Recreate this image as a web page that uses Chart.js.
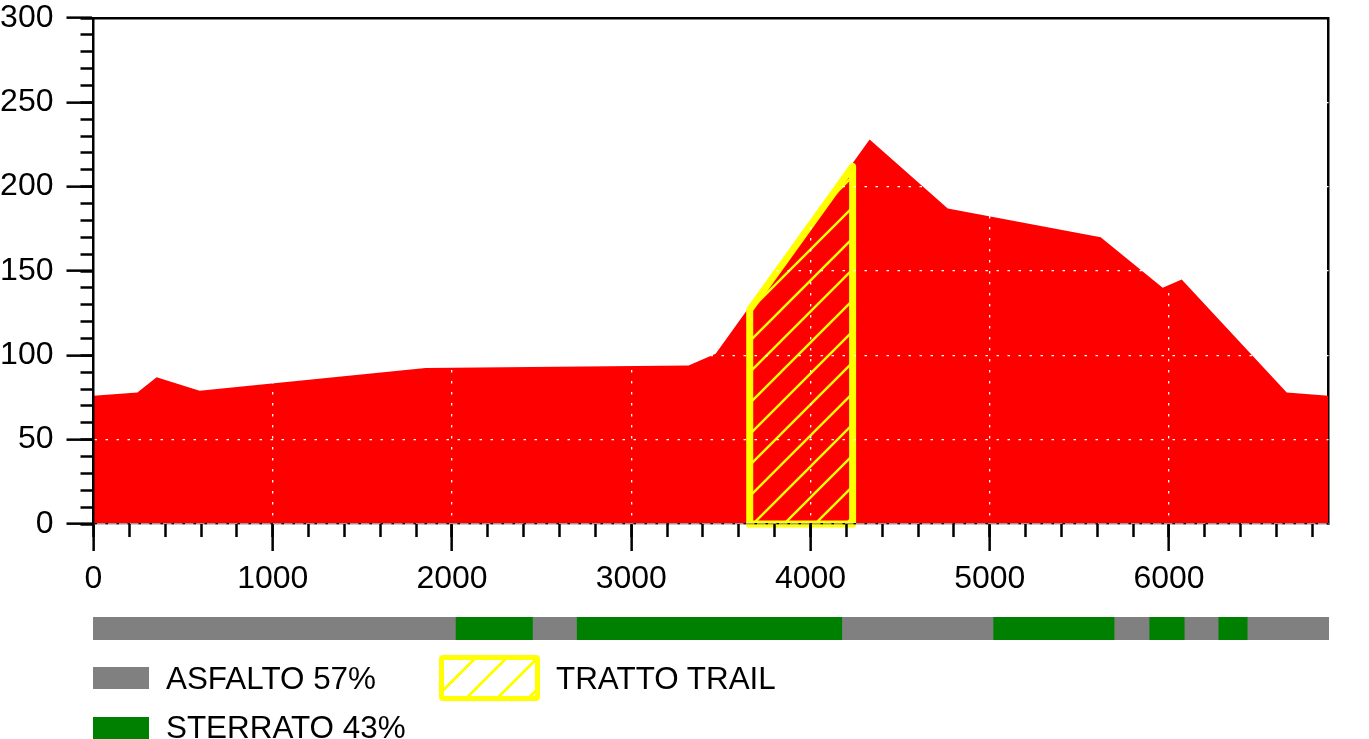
<!DOCTYPE html>
<html>
<head>
<meta charset="utf-8">
<script src="https://cdn.jsdelivr.net/npm/chart.js@4.4.1/dist/chart.umd.min.js"></script>
<style>
html,body{margin:0;padding:0;background:#fff;width:1369px;height:739px;overflow:hidden;}
#main{position:absolute;left:0;top:0;}
#surf{position:absolute;left:93px;top:617px;}
.lg{position:absolute;font-family:'Liberation Sans',Arial,sans-serif;font-size:31.4px;line-height:32px;color:#000;white-space:nowrap;}
.box{position:absolute;box-sizing:border-box;}
</style>
</head>
<body>
<canvas id="main" width="1369" height="739"></canvas>
<canvas id="surf" width="1236" height="23"></canvas>
<div class="box" style="left:93px;top:667px;width:56px;height:22px;background:#808080;"></div>
<div class="lg" id="lgA" style="left:166px;top:663px;"></div>
<div class="box" style="left:93px;top:717px;width:56px;height:22px;background:#008000;"></div>
<div class="lg" id="lgS" style="left:166px;top:712px;"></div>
<div class="box" style="left:439px;top:655px;width:101px;height:46px;border:5px solid #ffff00;border-radius:4px;background:repeating-linear-gradient(135deg, rgba(255,255,255,0) 0px, rgba(255,255,255,0) 19.5px, #ffff00 19.5px, #ffff00 22px);"></div>
<div class="lg" id="lgT" style="left:556px;top:663px;"></div>
<script>
// ---- Data ----
const distances  = [0, 245, 352, 592, 1853, 3320, 3471, 4330, 4766, 5619, 5965, 6071, 6657, 6890];
const elevations = [76, 78, 87, 79, 92.5, 94, 101, 228, 187, 170, 140, 145, 78, 76];

const trailDist = [3661, 3661, 4235, 4235];
const trailElev = [0, 127, 212, 0];
const trailBaseDist = [3661, 4235];
const trailBaseElev = [0, 0];

const surfaceBreaks = [0, 2020, 2450, 2695, 4174, 5017, 5692, 5887, 6083, 6272, 6434, 6890];
const surfaceTypes  = ['A', 'S', 'A', 'S', 'A', 'S', 'A', 'S', 'A', 'S', 'A'];

const xTickValues = [0, 1000, 2000, 3000, 4000, 5000, 6000];
const yTickValues = [0, 50, 100, 150, 200, 250, 300];

const legendLabels = { A: 'ASFALTO 57%', S: 'STERRATO 43%', T: 'TRATTO TRAIL' };

const xMin = 0, xMax = 6890;
const yMin = 0, yMax = 300;
const xMinorStep = 200, yMinorStep = 10;

// ---- Legend text ----
document.getElementById('lgA').textContent = legendLabels.A;
document.getElementById('lgS').textContent = legendLabels.S;
document.getElementById('lgT').textContent = legendLabels.T;

// ---- Hatch pattern ----
const mainCanvas = document.getElementById('main');
const mctx = mainCanvas.getContext('2d');
function makeHatch() {
  const c = document.createElement('canvas');
  c.width = 31; c.height = 31;
  const g = c.getContext('2d');
  g.strokeStyle = '#ffff00';
  g.lineWidth = 2.4;
  g.beginPath();
  g.moveTo(-3, 34); g.lineTo(34, -3);
  g.moveTo(-3, 3); g.lineTo(3, -3);
  g.moveTo(28, 34); g.lineTo(34, 28);
  g.stroke();
  const p = mctx.createPattern(c, 'repeat');
  try { p.setTransform(new DOMMatrix([1, 0, 0, 1, 6, 0])); } catch (e) {}
  return p;
}
const hatch = makeHatch();

const FONT = { family: "'Liberation Sans', Arial, sans-serif", size: 32 };
const HIDE = 'rgba(0,0,0,0)';
const DASH = [2.5, 8.5];
const noPad = s => { s.paddingLeft = 0; s.paddingRight = 0; s.paddingTop = 0; s.paddingBottom = 0; };
const fixedTicks = vals => s => { s.ticks = vals.map(v => ({ value: v })); };

new Chart(mainCanvas, {
  type: 'line',
  data: {
    datasets: [
      {
        label: legendLabels.T + ' base',
        data: trailBaseDist.map((x, i) => ({ x: x, y: trailBaseElev[i] })),
        borderColor: '#ffff00',
        borderWidth: 7,
        borderCapStyle: 'round',
        fill: false,
        pointRadius: 0,
        clip: false,
        xAxisID: 'x', yAxisID: 'y'
      },
      {
        label: legendLabels.T,
        data: trailDist.map((x, i) => ({ x: x, y: trailElev[i] })),
        borderColor: '#ffff00',
        borderWidth: 7,
        borderJoinStyle: 'round',
        borderCapStyle: 'round',
        backgroundColor: hatch,
        fill: 'origin',
        pointRadius: 0,
        tension: 0,
        clip: false,
        xAxisID: 'x', yAxisID: 'y'
      },
      {
        label: 'Altimetria',
        data: distances.map((x, i) => ({ x: x, y: elevations[i] })),
        borderWidth: 0,
        borderColor: '#ff0000',
        backgroundColor: '#ff0000',
        fill: 'origin',
        pointRadius: 0,
        tension: 0,
        xAxisID: 'x', yAxisID: 'y'
      }
    ]
  },
  options: {
    responsive: false,
    animation: false,
    devicePixelRatio: 1,
    events: [],
    plugins: { legend: { display: false }, tooltip: { enabled: false } },
    layout: { padding: { left: 0, top: 18, right: 40.5, bottom: 0 } },
    scales: {
      x: {
        type: 'linear', position: 'bottom', weight: 1, min: xMin, max: xMax,
        afterBuildTicks: fixedTicks(xTickValues),
        ticks: { autoSkip: false, maxRotation: 0, padding: 9,
                 color: '#000', font: FONT, callback: v => String(v) },
        grid: { z: 1, color: c => (c.tick && c.tick.value > 0) ? '#ffffff' : HIDE, lineWidth: 1.3,
                tickColor: '#000', tickWidth: 2.5, tickLength: 27 },
        border: { display: true, color: '#999', width: 1.5, dash: DASH, z: 1 },
        afterFit: s => { s.height = 739 - 524; noPad(s); }
      },
      xMinor: {
        type: 'linear', position: 'bottom', weight: 0, min: xMin, max: xMax,
        ticks: { stepSize: xMinorStep, includeBounds: false, display: false },
        grid: { z: 1, drawOnChartArea: false, tickColor: '#000', tickWidth: 2.5, tickLength: 13 },
        border: { display: false },
        afterFit: s => { s.height = 0; noPad(s); }
      },
      xTop: {
        type: 'linear', position: 'top', min: xMin, max: xMax,
        ticks: { display: false },
        grid: { display: false, drawTicks: false },
        border: { display: true, color: '#000', width: 2.5, z: 1 },
        afterFit: s => { s.height = 0; noPad(s); }
      },
      y: {
        type: 'linear', position: 'left', weight: 1, min: yMin, max: yMax,
        afterBuildTicks: fixedTicks(yTickValues),
        ticks: { padding: 13, color: '#000', font: FONT, callback: v => String(v) },
        grid: { z: 1,
                color: c => !c.tick ? HIDE : (c.tick.value === 0 ? '#000' : (c.tick.value < yMax ? '#ffffff' : HIDE)),
                lineWidth: 1.3, tickColor: '#000', tickWidth: 2.5, tickLength: 27 },
        border: { display: true, color: '#000', width: 2.5, dash: DASH, z: 1 },
        afterFit: s => { s.width = 93.5; noPad(s); }
      },
      yMinor: {
        type: 'linear', position: 'left', weight: 0, min: yMin, max: yMax,
        ticks: { stepSize: yMinorStep, display: false },
        grid: { z: 1, drawOnChartArea: false, tickColor: '#000', tickWidth: 2.5, tickLength: 13 },
        border: { display: false },
        afterFit: s => { s.width = 0; noPad(s); }
      },
      yRight: {
        type: 'linear', position: 'right', min: yMin, max: yMax,
        ticks: { display: false },
        grid: { display: false, drawTicks: false },
        border: { display: true, color: '#000', width: 2.5, z: 0 },
        afterFit: s => { s.width = 0; noPad(s); }
      }
    }
  }
});

// ---- Surface bar ----
const surfDatasets = surfaceTypes.map((t, i) => ({
  label: t === 'A' ? 'ASFALTO' : 'STERRATO',
  data: [[surfaceBreaks[i], surfaceBreaks[i + 1]]],
  backgroundColor: t === 'A' ? '#808080' : '#008000',
  borderWidth: 0,
  grouped: false,
  barPercentage: 1,
  categoryPercentage: 1
}));
new Chart(document.getElementById('surf'), {
  type: 'bar',
  data: { labels: ['fondo'], datasets: surfDatasets },
  options: {
    indexAxis: 'y',
    responsive: false,
    animation: false,
    devicePixelRatio: 1,
    events: [],
    layout: { padding: 0 },
    plugins: { legend: { display: false }, tooltip: { enabled: false } },
    scales: {
      x: { display: false, min: xMin, max: xMax },
      y: { display: false }
    }
  }
});
</script>
</body>
</html>
